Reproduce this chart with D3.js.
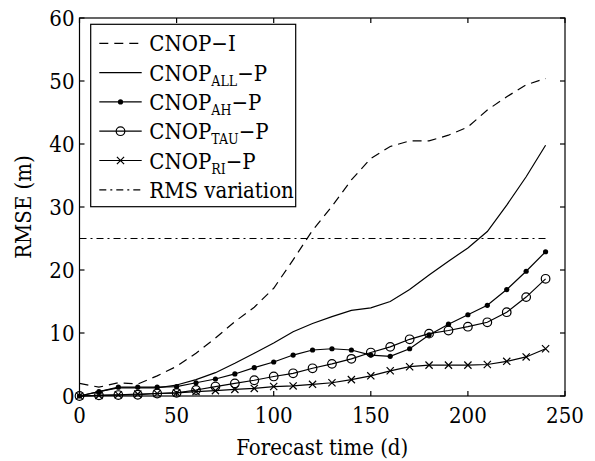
<!DOCTYPE html>
<html>
<head>
<meta charset="utf-8">
<script src="https://cdnjs.cloudflare.com/ajax/libs/d3/7.8.5/d3.min.js"></script>
<style>
    body { margin: 0; background: #fff; }
    svg text { font-stretch: condensed; }
</style>
</head>
<body>
<div id="chart"></div>
<script>
    // forecast days (x) and RMSE values (m)
    const days = [0, 10, 20, 30, 40, 50, 60, 70, 80, 90, 100, 110, 120,
        130, 140, 150, 160, 170, 180, 190, 200, 210, 220, 230, 240];
    const cnopI = [2.0, 1.4, 2.1, 1.9, 3.2, 4.7, 6.8, 9.2, 11.8, 14.1, 17.1, 21.6, 26.3,
        30.1, 34.3, 37.7, 39.6, 40.5, 40.5, 41.4, 42.7, 45.4, 47.5, 49.4, 50.4];
    const cnopAll = [0, 0.7, 1.3, 1.3, 1.3, 1.75, 2.6, 3.7, 5.2, 6.8, 8.4, 10.2, 11.5,
        12.6, 13.6, 14.0, 15.0, 16.9, 19.2, 21.4, 23.5, 26.1, 30.3, 34.8, 39.8];
    const cnopAH = [0, 0.7, 1.4, 1.4, 1.4, 1.5, 2.1, 2.7, 3.5, 4.5, 5.4, 6.5, 7.3,
        7.5, 7.3, 6.5, 6.3, 7.5, 9.7, 11.4, 12.9, 14.4, 16.9, 19.8, 22.9];
    const cnopTAU = [0, 0.1, 0.15, 0.2, 0.4, 0.5, 0.95, 1.5, 2.0, 2.5, 3.1, 3.6, 4.4,
        5.1, 5.9, 6.9, 7.8, 9.0, 9.9, 10.4, 11.0, 11.7, 13.3, 15.7, 18.6];
    const cnopRI = [0, 0.1, 0.2, 0.3, 0.4, 0.5, 0.7, 0.85, 1.05, 1.2, 1.5, 1.6, 1.85,
        2.1, 2.6, 3.2, 4.0, 4.65, 4.9, 4.9, 4.9, 5.0, 5.5, 6.2, 7.5];
    const rmsVariation = 25;
    const rmsSpan = [0, 240];

    const xTicks = [0, 50, 100, 150, 200, 250];
    const yTicks = [0, 10, 20, 30, 40, 50, 60];

    const width = 595, height = 461;
    const font = "'DejaVu Serif Condensed', 'DejaVu Serif', serif";
    const x = d3.scaleLinear().domain([0, 250]).range([79.5, 565]);
    const y = d3.scaleLinear().domain([0, 60]).range([396, 18]);

    const svg = d3.select("#chart").append("svg")
        .attr("width", width)
        .attr("height", height)
        .style("font-family", font);

    const plot = svg.append("g");

    // series definitions (style only)
    const series = [
        { main: "CNOP", sub: "", tail: "\u2212I", values: cnopI, dash: "9,6", marker: null },
        { main: "CNOP", sub: "ALL", tail: "\u2212P", values: cnopAll, dash: null, marker: null },
        { main: "CNOP", sub: "AH", tail: "\u2212P", values: cnopAH, dash: null, marker: "dot" },
        { main: "CNOP", sub: "TAU", tail: "\u2212P", values: cnopTAU, dash: null, marker: "circle" },
        { main: "CNOP", sub: "RI", tail: "\u2212P", values: cnopRI, dash: null, marker: "cross" },
    ];

    const line = d3.line().x(d => x(d[0])).y(d => y(d[1]));

    function drawMarker(g, type, cx, cy) {
        if (type === "dot") {
            g.append("circle").attr("cx", cx).attr("cy", cy).attr("r", 2.6).attr("fill", "#000");
        } else if (type === "circle") {
            g.append("circle").attr("cx", cx).attr("cy", cy).attr("r", 4.3)
                .attr("fill", "none").attr("stroke", "#000").attr("stroke-width", 1.2);
        } else if (type === "cross") {
            const s = 3.6;
            g.append("path")
                .attr("d", `M${cx - s},${cy - s}L${cx + s},${cy + s}M${cx - s},${cy + s}L${cx + s},${cy - s}`)
                .attr("stroke", "#000").attr("stroke-width", 1.2);
        }
    }

    // RMS variation reference line
    plot.append("path")
        .attr("d", line([[rmsSpan[0], rmsVariation], [rmsSpan[1], rmsVariation]]))
        .attr("fill", "none").attr("stroke", "#000").attr("stroke-width", 1.1)
        .attr("stroke-dasharray", "7,4,2,4");

    series.forEach(s => {
        const pts = days.map((d, i) => [d, s.values[i]]);
        plot.append("path")
            .attr("d", line(pts))
            .attr("fill", "none")
            .attr("stroke", "#000")
            .attr("stroke-width", 1.2)
            .attr("stroke-dasharray", s.dash);
        if (s.marker) {
            const mg = plot.append("g");
            pts.forEach(p => drawMarker(mg, s.marker, x(p[0]), y(p[1])));
        }
    });

    // axes: box with inward ticks on all sides
    const tickLen = 5;
    const axes = svg.append("g").attr("stroke", "#000").attr("stroke-width", 1.2);
    axes.append("rect")
        .attr("x", x(0)).attr("y", y(60))
        .attr("width", x(250) - x(0)).attr("height", y(0) - y(60))
        .attr("fill", "none");
    xTicks.forEach(t => {
        axes.append("line").attr("x1", x(t)).attr("x2", x(t)).attr("y1", y(0)).attr("y2", y(0) - tickLen);
        axes.append("line").attr("x1", x(t)).attr("x2", x(t)).attr("y1", y(60)).attr("y2", y(60) + tickLen);
    });
    yTicks.forEach(t => {
        axes.append("line").attr("x1", x(0)).attr("x2", x(0) + tickLen).attr("y1", y(t)).attr("y2", y(t));
        axes.append("line").attr("x1", x(250)).attr("x2", x(250) - tickLen).attr("y1", y(t)).attr("y2", y(t));
    });

    svg.append("g").selectAll("text").data(xTicks).join("text")
        .attr("x", d => x(d)).attr("y", 423)
        .attr("text-anchor", "middle")
        .attr("font-size", 22)
        .text(d => d);

    svg.append("g").selectAll("text").data(yTicks).join("text")
        .attr("x", 74.5).attr("y", d => y(d) + 7.5)
        .attr("text-anchor", "end")
        .attr("font-size", 22)
        .text(d => d);

    svg.append("text")
        .attr("x", (x(0) + x(250)) / 2).attr("y", 455)
        .attr("text-anchor", "middle")
        .attr("font-size", 22)
        .text("Forecast time (d)");

    svg.append("text")
        .attr("transform", `translate(31,${(y(0) + y(60)) / 2}) rotate(-90)`)
        .attr("text-anchor", "middle")
        .attr("font-size", 22)
        .text("RMSE (m)");

    // legend
    const legend = svg.append("g");
    legend.append("rect")
        .attr("x", 90.7).attr("y", 24.3)
        .attr("width", 205).attr("height", 182.4)
        .attr("fill", "#fff").attr("stroke", "#000").attr("stroke-width", 1.2);

    const legendItems = series.concat([{ main: "RMS variation", sub: "", tail: "", dash: "7,4,2,4", marker: null }]);
    legendItems.forEach((s, i) => {
        const cy = 43.3 + i * 29.3;
        const row = legend.append("g");
        row.append("line")
            .attr("x1", 99.3).attr("x2", 141.7).attr("y1", cy).attr("y2", cy)
            .attr("stroke", "#000").attr("stroke-width", 1.2)
            .attr("stroke-dasharray", s.dash);
        if (s.marker) drawMarker(row, s.marker, 120.5, cy);
        const t = row.append("text")
            .attr("x", 149.3).attr("y", cy + 8)
            .attr("font-size", 22);
        t.append("tspan").text(s.main);
        if (s.sub) t.append("tspan").attr("font-size", 14).attr("dy", 5).text(s.sub);
        if (s.tail) t.append("tspan").attr("dy", s.sub ? -5 : 0).text(s.tail);
    });
</script>
</body>
</html>
